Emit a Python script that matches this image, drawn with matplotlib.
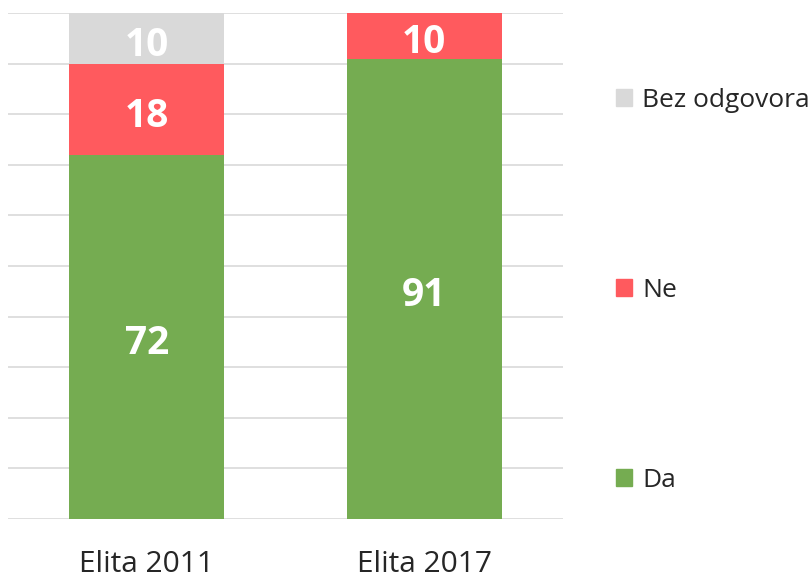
import numpy as np
import matplotlib.pyplot as plt
from matplotlib.patches import Patch

plt.rcParams['font.family'] = ['Open Sans', 'DejaVu Sans']

categories = ['Elita 2011', 'Elita 2017']
da = [72, 91]
ne = [18, 10]
bez = [10, 0]
series_names = ['Da', 'Ne', 'Bez odgovora']
colors = ['#75AC51', '#FF5A5E', '#D9D9D9']

fig = plt.figure(figsize=(8.12, 5.79), dpi=100)
ax = fig.add_axes([8 / 812, 60 / 579, 555 / 812, 506 / 579])

x = np.arange(len(categories))
w = 0.56
bottom = np.zeros(len(categories))
for vals, name, col in zip([da, ne, bez], series_names, colors):
    vals = np.array(vals, dtype=float)
    ax.bar(x, vals, w, bottom=bottom, color=col, label=name, zorder=2)
    for xi, b, v in zip(x, bottom, vals):
        if v > 0:
            mid = (b + min(b + v, 100)) / 2
            ax.annotate(f'{int(v)}', (xi, mid), xytext=(0, -5),
                        textcoords='offset points', ha='center', va='center',
                        color='white', fontsize=28, fontweight='bold', zorder=3)
    bottom += vals

ax.set_xlim(-0.5, 1.5)
ax.set_ylim(0, 100)
ax.set_yticks(np.arange(0, 101, 10))
ax.yaxis.grid(True, color='#D9D9D9', linewidth=1.2, zorder=0)
ax.set_yticklabels([])
ax.tick_params(axis='y', length=0)
ax.tick_params(axis='x', length=0, pad=22, labelsize=21.5, labelcolor='#262626')
ax.set_xticks(x)
ax.set_xticklabels(categories)
for s in ax.spines.values():
    s.set_visible(False)

handles = [Patch(color=c) for c in colors[::-1]]
fig.legend(handles, series_names[::-1], loc='upper left',
           bbox_to_anchor=(592 / 812, 1 - 64 / 579), frameon=False,
           fontsize=19, handlelength=0.6, handleheight=0.6,
           handletextpad=0.4, labelspacing=6.25, labelcolor='#262626')

fig.savefig('out.png', dpi=100)
